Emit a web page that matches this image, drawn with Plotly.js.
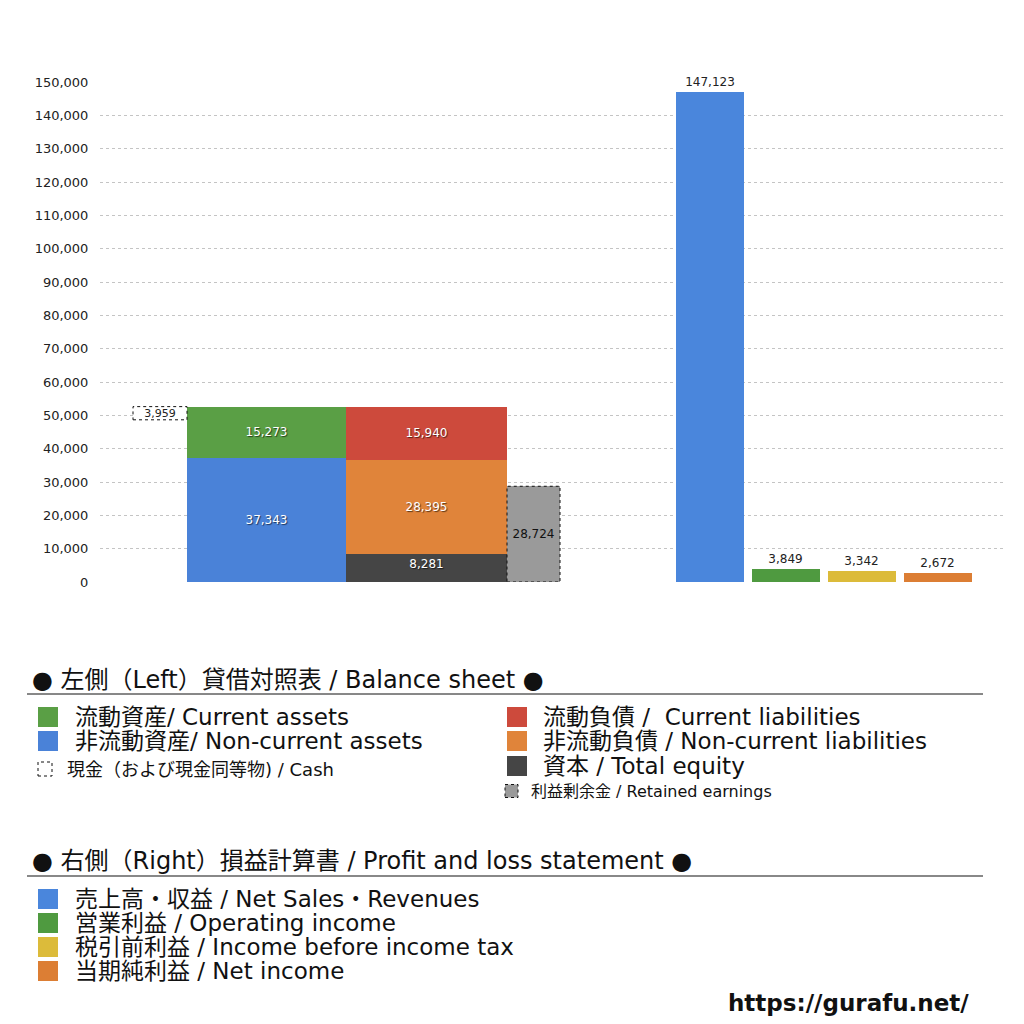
<!DOCTYPE html>
<html>
<head>
<meta charset="utf-8">
<script src="https://cdn.plot.ly/plotly-3.0.1.min.js"></script>
<style>html,body{margin:0;padding:0;background:#fff;}#chart{width:1024px;height:1024px;}</style>
</head>
<body>
<div id="chart"></div>
<script>
// ---------- DATA ----------
const assetNames = ['非流動資産/ Non-current assets', '流動資産/ Current assets'];
const assetValues = [37343, 15273];
const liabilityNames = ['資本 / Total equity', '非流動負債 / Non-current liabilities', '流動負債 /  Current liabilities'];
const liabilityValues = [8281, 28395, 15940];
const cashName = ['現金（および現金同等物) / Cash'];
const cashValue = [3959];
const retainedName = ['利益剰余金 / Retained earnings'];
const retainedValue = [28724];
const plNames = ['売上高・収益 / Net Sales・Revenues', '営業利益 / Operating income', '税引前利益 / Income before income tax', '当期純利益 / Net income'];
const plValues = [147123, 3849, 3342, 2672];
const yTickValues = [0, 10000, 20000, 30000, 40000, 50000, 60000, 70000, 80000, 90000, 100000, 110000, 120000, 130000, 140000, 150000];

// ---------- STYLE / POSITION ----------
const assetColors = ['#4a82d8', '#5a9f45'];
const liabilityColors = ['#454545', '#e0843a', '#cd4a3c'];
const plColors = ['#4a86dc', '#4f9a40', '#dcbb3a', '#dc7e34'];
const fmt = v => v.toLocaleString('en-US');
const numFont = '"DejaVu Sans", sans-serif';
const jpFont = '"DejaVu Sans", "Noto Sans CJK JP", sans-serif';

const assetX = 266.5, assetW = 159;
const liabX = 426.5, liabW = 161;
const cashX = 160, cashW = 54;
const retX = 533.5, retW = 53;
const plX = [710, 785.5, 861.5, 937.5], plW = 68;

const cum = arr => arr.map((v, i) => arr.slice(0, i).reduce((a, b) => a + b, 0));
const assetBase = cum(assetValues);
const liabBase = cum(liabilityValues);
const totalAssets = assetValues.reduce((a, b) => a + b, 0);

const inFont = {color: '#fff', size: 12, family: numFont, shadow: '1px 1px 1px rgba(0,0,0,0.6)'};
const traces = [];
assetValues.forEach((v, i) => {
  traces.push({
    type: 'bar', name: assetNames[i], x: [assetX], y: [v], base: [assetBase[i]], width: [assetW],
    marker: {color: assetColors[i], line: {width: 0}},
    text: [fmt(v)], textposition: 'inside', insidetextanchor: 'middle', textangle: 0, constraintext: 'none',
    textfont: inFont, hoverinfo: 'skip'
  });
});
liabilityValues.forEach((v, i) => {
  traces.push({
    type: 'bar', name: liabilityNames[i], x: [liabX], y: [v], base: [liabBase[i]], width: [liabW],
    marker: {color: liabilityColors[i], line: {width: 0}},
    text: [fmt(v)], textposition: 'inside', insidetextanchor: i === 0 ? 'end' : 'middle', textangle: 0, constraintext: 'none',
    textfont: inFont, hoverinfo: 'skip'
  });
});
traces.push({
  type: 'bar', name: cashName[0], x: [cashX], y: cashValue, base: [totalAssets - cashValue[0]], width: [cashW],
  marker: {color: '#ffffff', line: {width: 0}},
  text: cashValue.map(fmt), textposition: 'inside', insidetextanchor: 'middle', textangle: 0, constraintext: 'none',
  textfont: {color: '#222', size: 11, family: numFont}, hoverinfo: 'skip'
});
traces.push({
  type: 'bar', name: retainedName[0], x: [retX], y: retainedValue, base: [0], width: [retW],
  marker: {color: '#9a9a9a', line: {width: 0}},
  text: retainedValue.map(fmt), textposition: 'inside', insidetextanchor: 'middle', textangle: 0, constraintext: 'none',
  textfont: {color: '#111', size: 12, family: numFont}, hoverinfo: 'skip'
});
traces.push({
  type: 'bar', name: 'P/L', x: plX, y: plValues, width: plX.map(() => plW),
  marker: {color: plColors, line: {width: 0}},
  text: plValues.map(fmt), textposition: 'outside', cliponaxis: false, textangle: 0,
  textfont: {color: '#222', size: 12, family: numFont}, hoverinfo: 'skip'
});

// ---------- LEGEND / DECORATION (pixel helpers, paper coords with zero margins) ----------
const PX = p => p / 1024;
const PY = p => 1 - p / 1024;
const shapes = [];
const annotations = [];

// dashed outlines around cash and retained earnings bars (data coords)
shapes.push({type: 'rect', xref: 'x', yref: 'y', x0: cashX - cashW / 2, x1: cashX + cashW / 2,
  y0: totalAssets - cashValue[0], y1: totalAssets, line: {color: '#111', width: 1, dash: 'dot'}, fillcolor: 'rgba(0,0,0,0)'});
shapes.push({type: 'rect', xref: 'x', yref: 'y', x0: retX - retW / 2, x1: retX + retW / 2,
  y0: 0, y1: retainedValue[0], line: {color: '#111', width: 1, dash: 'dot'}, fillcolor: 'rgba(0,0,0,0)'});

function txt(x, y, s, size, fam, opts) {
  annotations.push(Object.assign({xref: 'paper', yref: 'paper', x: PX(x), y: PY(y), text: s, showarrow: false,
    xanchor: 'left', yanchor: 'middle', borderpad: 0, font: {family: fam || jpFont, size: size, color: '#111'}}, opts || {}));
}
function sq(x, y, s, color, dashed) {
  shapes.push({type: 'rect', xref: 'paper', yref: 'paper', x0: PX(x), x1: PX(x + s), y0: PY(y + s / 2), y1: PY(y - s / 2),
    fillcolor: color, line: dashed ? {color: '#111', width: 1, dash: 'dot'} : {width: 0}});
}
function hline(y, color, w) {
  shapes.push({type: 'line', xref: 'paper', yref: 'paper', x0: PX(27), x1: PX(983), y0: PY(y), y1: PY(y), line: {color: color, width: w}});
}

const rowSize = 23;
// Section 1
txt(31, 680, '● 左側（Left）貸借対照表 / Balance sheet ●', 24);
hline(694, '#111', 1);
sq(38, 717, 20, assetColors[1]); txt(74, 717, assetNames[1], rowSize);
sq(38, 741, 20, assetColors[0]); txt(74, 741, assetNames[0], rowSize);
sq(38, 769, 14, '#ffffff', true); txt(66, 769, cashName[0], 18);
sq(507, 717, 20, liabilityColors[2]); txt(542, 717, liabilityNames[2], rowSize);
sq(507, 741, 20, liabilityColors[1]); txt(542, 741, liabilityNames[1], rowSize);
sq(507, 766, 20, liabilityColors[0]); txt(542, 766, liabilityNames[0], rowSize);
sq(505, 791, 13, '#9a9a9a', true); txt(530, 791, retainedName[0], 16);

// Section 2
txt(31, 861, '● 右側（Right）損益計算書 / Profit and loss statement ●', 24);
hline(876, '#888', 2);
plNames.forEach((n, i) => {
  sq(38, 899 + i * 24, 20, plColors[i]);
  txt(74, 899 + i * 24, n, rowSize);
});

// URL
txt(970, 1003, '<b>https://gurafu.net/</b>', 23, '"DejaVu Sans", sans-serif', {xanchor: 'right'});

const layout = {
  width: 1024, height: 1024,
  margin: {l: 0, r: 0, t: 0, b: 0, pad: 0},
  paper_bgcolor: '#fff', plot_bgcolor: '#fff',
  barmode: 'overlay', bargap: 0,
  showlegend: false,
  xaxis: {domain: [PX(100), PX(1005)], range: [100, 1005], showgrid: false, zeroline: false, showticklabels: false, ticks: '', fixedrange: true},
  yaxis: {domain: [PY(582), PY(82)], range: [0, 150000], tickvals: yTickValues, tickformat: ',d',
    showgrid: true, gridcolor: '#c4c4c4', griddash: 'dot', gridwidth: 1, zeroline: false,
    ticks: 'outside', ticklen: 8, tickcolor: 'rgba(0,0,0,0)',
    tickfont: {family: numFont, size: 13, color: '#222'}, fixedrange: true},
  shapes: shapes,
  annotations: annotations
};

Plotly.newPlot('chart', traces, layout, {displayModeBar: false, staticPlot: true});
</script>
</body>
</html>
